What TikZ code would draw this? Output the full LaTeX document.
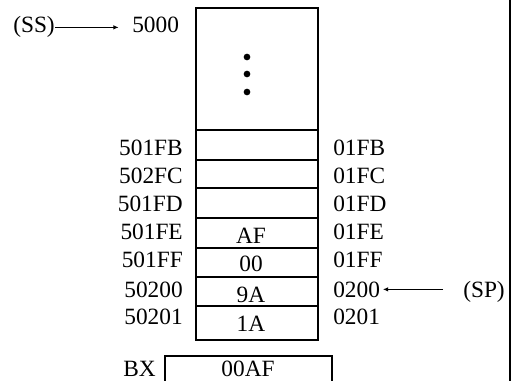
\documentclass[tikz,border=0pt]{standalone}
\usepackage{fontspec}
\setmainfont{Liberation Serif}
\usepackage{tikz}
\usetikzlibrary{arrows.meta}

\begin{document}
\begin{tikzpicture}[x=0.75pt,y=-0.75pt,
    every node/.style={inner sep=0pt,font=\fontsize{17.5}{20}\selectfont},
    box/.style={line width=1.5pt},
    ptr/.style={line width=1.1pt,-{Latex[length=4pt,width=3.5pt]}}]
  \useasboundingbox (0,0) rectangle (511,381);
  \draw[line width=1.5pt] (510,0) -- (510,381);
  \draw[box] (196,8) rectangle (318,340);
  \foreach \y in {130,160,188,218,248,277,306}
    \draw[box] (196,\y) -- (318,\y);
  \fill (247,57) circle[radius=2.5pt];
  \fill (247,74) circle[radius=2.5pt];
  \fill (247,92) circle[radius=2.5pt];
  \node[anchor=base west] (ss) at (13,33) {(SS)};
  \node[anchor=base west] (top) at (132,33) {5000};
  \draw[ptr] (ss.east) -- ([xshift=-10pt]ss.east -| top.west);
  \foreach \lft/\rgt/\y [count=\i] in {501FB/01FB/156,502FC/01FC/184,501FD/01FD/212,
      501FE/01FE/240,501FF/01FF/268,50200/0200/297,50201/0201/325} {
    \node[anchor=base east] (l\i) at (183,\y) {\lft};
    \node[anchor=base west] (r\i) at (333,\y) {\rgt};
  }
  \foreach \val/\y [count=\i from 4] in {AF/244,00/272,9A/303,1A/331}
    \node[anchor=base] (v\i) at (251,\y) {\val};
  \node[anchor=base west] (sp) at (463,297) {(SP)};
  \draw[ptr,shorten <=15pt,shorten >=2pt] (sp.west |- r6.east) -- (r6.east);
  \draw[box] (165,384) |- (332,356) -- (332,384);
  \node[anchor=base west] (bx) at (123,376) {BX};
  \node[anchor=base] (bxval) at (248,376) {00AF};
\end{tikzpicture}
\end{document}
